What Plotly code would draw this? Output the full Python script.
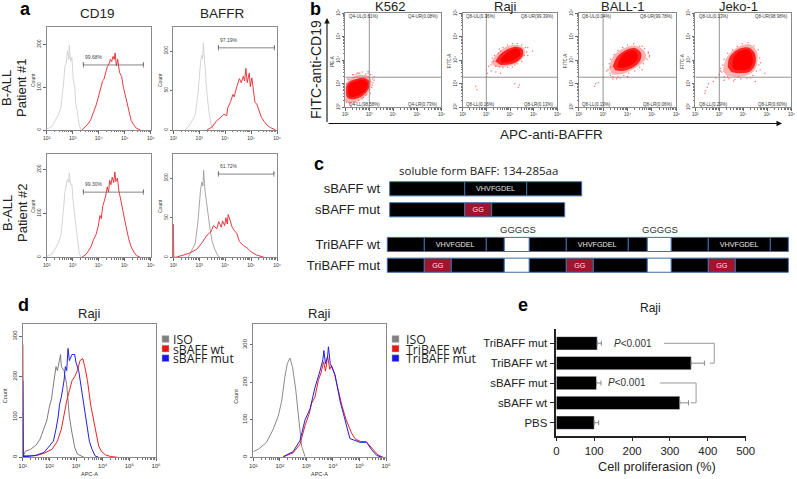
import numpy as np
import plotly.graph_objects as go

W, H = 797, 479
ARIAL = "Liberation Sans"
OPEN = "Open Sans"
SUP = {1: "¹", 2: "²", 3: "³", 4: "⁴", 5: "⁵", 6: "⁶"}

# ---------- panel a histograms (x = log10 intensity, y = count) ----------
a_iso_x = [2.0,2.2,2.35,2.45,2.55,2.6,2.65,2.7,2.75,2.8,2.85,2.87,2.92,2.97,3.02,3.08,3.12,3.18,3.25,3.32]
a_iso1_y = [2,8,25,35,55,80,110,150,155,185,165,198,160,170,120,100,60,40,12,0]
a_iso3_y = [2,7,22,33,52,78,112,148,160,178,170,192,165,165,125,95,62,36,10,0]
a_red1_x = [3.35,3.5,3.6,3.7,3.8,3.9,3.98,4.05,4.1,4.15,4.2,4.27,4.33,4.4,4.45,4.5,4.55,4.6,4.63,4.68,4.73,4.8,4.88,4.95,5.02,5.1,5.18,5.25,5.35,5.45,5.6]
a_red1_y = [0,8,15,25,40,58,75,90,100,115,118,135,148,155,165,160,172,165,180,150,165,135,125,100,80,60,38,22,12,4,0]
a_red3_x = [3.35,3.5,3.6,3.7,3.8,3.9,3.98,4.05,4.1,4.15,4.2,4.27,4.33,4.38,4.42,4.47,4.52,4.58,4.62,4.66,4.72,4.78,4.85,4.92,5.0,5.08,5.16,5.25,5.35,5.45,5.6]
a_red3_y = [0,6,14,24,40,52,70,95,88,115,125,140,160,148,175,165,182,170,194,172,180,150,130,105,85,62,40,24,12,4,0]
a_iso2_x = [2.45,2.6,2.75,2.85,2.95,3.0,3.05,3.1,3.13,3.16,3.2,3.25,3.3,3.38,3.45,3.55]
a_iso2_y = [0,5,13,20,45,70,85,95,90,110,88,75,45,22,8,0]
a_red2_x = [3.3,3.5,3.68,3.8,3.95,4.06,4.1,4.2,4.3,4.35,4.45,4.55,4.62,4.7,4.75,4.8,4.85,4.93,4.97,5.03,5.1,5.15,5.22,5.3,5.4,5.5,5.62,5.75,5.95]
a_red2_y = [0,4,12,15,20,18,28,35,45,42,55,65,60,68,62,78,60,72,55,66,48,35,33,26,16,11,6,3,0]
a_iso4_x = [2.58,2.7,2.85,2.95,3.0,3.05,3.1,3.14,3.17,3.22,3.28,3.35,3.42,3.5,3.6,3.72,3.8]
a_iso4_y = [0,8,18,45,70,85,95,90,110,85,70,50,35,20,10,2,0]
a_red4_x = [2.0,2.0,2.02,2.1,2.32,2.6,2.9,3.1,3.3,3.45,3.55,3.68,3.75,3.85,3.9,3.98,4.03,4.08,4.12,4.2,4.27,4.35,4.45,4.55,4.7,4.84,5.0,5.2,5.35,5.5]
a_red4_y = [0,42,0,0,2,5,10,18,28,32,40,36,45,38,46,40,50,42,54,45,38,34,30,20,15,12,7,3,1,0]
a_gates_x = [[3.41,5.72],[3.74,5.9],[3.41,5.72],[3.74,5.88]]
a_gates_y = [152,104,148,105]
a_gate_text = ["99.68%","97.19%","99.30%","61.72%"]
a_titles = ["CD19","BAFFR"]

# ---------- panel b dot plots (x,y = log10 intensity) ----------
b_titles = ["K562","Raji","BALL-1","Jeko-1"]
b_yname = ["PE-A","FITC-A","FITC-A","FITC-A"]
b_quad = [["Q4-UL(0.61%)","Q4-UR(0.08%)","Q4-LL(98.58%)","Q4-LR(0.73%)"],
          ["Q8-UL(0.36%)","Q8-UR(99.39%)","Q8-LL(0.16%)","Q8-LR(0.13%)"],
          ["Q8-UL(0.04%)","Q8-UR(99.78%)","Q8-LL(0.13%)","Q8-LR(0.06%)"],
          ["Q8-UL(0.13%)","Q8-UR(98.98%)","Q8-LL(0.29%)","Q8-LR(0.60%)"]]
k562_halo_x = [2.0,2.0,2.1,2.3,2.6,2.9,3.05,3.08,3.0,2.8,2.6,2.35,2.1]
k562_halo_y = [2.25,2.9,3.12,3.28,3.38,3.36,3.25,3.0,2.7,2.45,2.3,2.22,2.2]
k562_core_x = [2.04,2.06,2.22,2.5,2.8,3.0,3.0,2.82,2.55,2.3,2.1]
k562_core_y = [2.5,2.95,3.12,3.22,3.25,3.12,2.85,2.58,2.4,2.34,2.38]
k562_inner_x = [2.12,2.14,2.28,2.5,2.78,2.92,2.92,2.78,2.55,2.32,2.18]
k562_inner_y = [2.58,2.92,3.06,3.14,3.16,3.06,2.85,2.65,2.5,2.44,2.46]
k562_dots_x = [2.05,2.2,2.45,2.7,3.05,3.15,3.2,2.95,2.7,2.5,2.3,2.1,3.1,2.85,2.55,2.02,2.03,2.05,2.15,2.35,2.6,2.85,3.05,3.15,3.12,3.02,2.9,2.75,2.55,2.35,2.15,3.2,2.95,2.45,3.05]
k562_dots_y = [2.2,2.15,2.22,2.35,2.6,3.05,3.3,3.45,3.5,3.46,3.38,3.2,2.85,2.5,3.45,2.3,2.6,3.0,3.2,3.38,3.45,3.42,3.38,3.2,2.95,2.75,2.55,2.42,2.28,2.22,2.2,3.15,3.52,3.4,3.1]
raji_halo_x = [3.2,3.35,3.6,3.9,4.3,4.58,4.62,4.42,4.1,3.7,3.38]
raji_halo_y = [3.88,4.15,4.42,4.6,4.66,4.52,4.25,3.98,3.8,3.72,3.72]
raji_core_x = [3.38,3.55,3.85,4.25,4.52,4.54,4.3,3.95,3.6]
raji_core_y = [3.95,4.22,4.45,4.58,4.48,4.2,3.94,3.82,3.8]
raji_inner_x = [3.6,3.75,3.95,4.25,4.42,4.42,4.2,3.9,3.65]
raji_inner_y = [4.02,4.22,4.38,4.5,4.42,4.2,4.02,3.92,3.9]
raji_dots_x = [2.55,2.6,3.0,3.05,3.1,3.2,4.4,4.35,4.2,4.95,3.4,3.0,4.75,3.6,3.2,3.3,3.35,3.5,3.55,3.7,3.9,4.1,4.3,4.5,4.6,4.7,4.65,4.5,4.3,4.1,3.9,3.7,3.55,3.25,3.4,4.75,4.2,3.6]
raji_dots_y = [2.9,2.75,3.6,3.45,3.75,3.55,2.95,2.85,3.0,4.4,3.5,3.3,4.55,3.45,3.8,3.95,4.2,4.3,3.7,3.68,3.7,3.72,3.85,3.95,4.2,4.35,4.55,4.65,4.72,4.7,4.65,4.55,4.48,4.1,3.75,4.2,3.8,4.4]
ball_halo_x = [3.25,3.35,3.62,3.95,4.3,4.68,4.76,4.52,4.1,3.7,3.38]
ball_halo_y = [3.62,4.05,4.38,4.56,4.62,4.42,4.1,3.82,3.55,3.4,3.4]
ball_core_x = [3.4,3.55,3.9,4.3,4.56,4.5,4.2,3.8,3.5]
ball_core_y = [3.75,4.12,4.42,4.52,4.3,3.95,3.68,3.55,3.58]
ball_inner_x = [3.6,3.72,3.95,4.25,4.42,4.36,4.12,3.82,3.6]
ball_inner_y = [3.82,4.12,4.34,4.42,4.25,3.98,3.78,3.68,3.7]
ball_dots_x = [2.65,2.7,2.8,3.0,3.3,3.4,3.7,4.0,4.85,4.9,4.6,3.15,3.55,3.2,3.25,3.3,3.45,3.6,3.8,4.0,4.25,4.5,4.7,4.85,4.8,4.65,4.5,4.3,4.05,3.85,3.6,3.4,3.28,4.6,4.0,3.3,4.9]
ball_dots_y = [2.9,3.0,3.05,3.25,3.35,3.2,3.25,3.3,4.3,4.15,4.6,3.55,3.22,3.6,3.85,4.05,4.25,4.42,4.55,4.65,4.7,4.6,4.5,4.35,4.05,3.85,3.7,3.55,3.45,3.35,3.3,3.3,3.45,3.6,3.3,3.7,4.2]
jeko_halo_x = [3.15,3.25,3.52,3.9,4.3,4.56,4.58,4.42,4.1,3.7,3.32]
jeko_halo_y = [3.52,4.0,4.38,4.62,4.66,4.38,3.9,3.52,3.34,3.3,3.34]
jeko_core_x = [3.35,3.42,3.75,4.2,4.48,4.5,4.28,3.85,3.5]
jeko_core_y = [3.72,4.12,4.45,4.55,4.3,3.85,3.52,3.45,3.5]
jeko_inner_x = [3.55,3.58,3.8,4.18,4.36,4.38,4.2,3.85,3.6]
jeko_inner_y = [3.78,4.08,4.35,4.45,4.25,3.85,3.62,3.58,3.62]
jeko_dots_x = [2.4,2.42,2.5,2.55,2.75,2.85,3.0,3.2,3.35,4.9,4.7,4.5,3.05,3.6,3.1,3.15,3.2,3.35,3.55,3.75,3.95,4.2,4.45,4.62,4.68,4.65,4.55,4.4,4.15,3.9,3.65,3.4,3.2,3.05,4.3,3.8,3.0,4.72]
jeko_dots_y = [2.6,2.7,2.85,3.0,3.1,3.25,3.4,3.15,3.3,3.45,3.6,3.1,3.55,3.12,3.5,3.8,4.05,4.3,4.45,4.6,4.7,4.75,4.62,4.45,4.1,3.8,3.55,3.35,3.25,3.2,3.18,3.22,3.3,3.65,3.25,3.3,3.4,3.9]
b_quad_line = 3.0, 3.28

# ---------- panel c constructs: segment lengths ----------
c_rows = ["TriBAFF mut","TriBAFF wt","sBAFF mut","sBAFF wt"]
c_row_y = [0.0, 1.0, 2.67, 3.68]
c_offset = [3.3, 3.3, 5.7, 5.7]
BLK, VH, GG, GAP = "black", "VHVFGDEL", "GG", "white"
c_sw_len = [75, 62, 55]
c_sw_kind = [BLK, VH, BLK]
c_sm_len = [75, 27, 73]
c_sm_kind = [BLK, GG, BLK]
c_tw_len = [37, 62, 18, 25, 37, 62, 19, 24, 37, 62, 18]
c_tw_kind = [BLK, VH, BLK, GAP, BLK, VH, BLK, GAP, BLK, VH, BLK]
c_tm_len = [37, 27, 53, 25, 37, 27, 54, 24, 37, 27, 53]
c_tm_kind = [BLK, GG, BLK, GAP, BLK, GG, BLK, GAP, BLK, GG, BLK]

# ---------- panel d histograms ----------
d1_iso_x = [1.0,1.1,1.3,1.5,1.65,1.8,1.9,2.0,2.08,2.12,2.2,2.25,2.3,2.37,2.42,2.45,2.55,2.65,2.75,2.85,2.95,3.05,3.2,3.3]
d1_iso_y = [0,15,20,30,45,70,90,125,145,165,200,225,215,240,255,225,215,180,100,60,25,8,2,0]
d1_red_x = [1.0,1.0,1.02,1.5,1.8,2.1,2.3,2.45,2.55,2.65,2.75,2.85,2.95,3.05,3.15,3.25,3.33,3.43,3.55,3.65,3.75,3.85,3.95,4.1,4.3,4.55]
d1_red_y = [0,280,4,4,10,20,40,70,105,140,165,190,200,215,240,245,225,190,130,95,55,28,15,6,2,0]
d1_blue_x = [1.0,1.0,1.02,1.2,1.5,1.8,2.0,2.15,2.25,2.33,2.38,2.45,2.55,2.6,2.65,2.7,2.75,2.85,2.95,3.0,3.1,3.2,3.3,3.4,3.5,3.6,3.72,3.85]
d1_blue_y = [0,190,2,2,5,12,28,40,70,100,130,150,190,225,215,270,240,255,255,235,215,170,120,80,40,20,3,0]
d2_iso_x = [1.0,1.2,1.5,1.75,1.94,2.07,2.19,2.28,2.38,2.48,2.6,2.72,2.82,2.95]
d2_iso_y = [15,22,40,75,110,150,215,250,265,240,180,90,30,2]
d2_red_x = [2.13,2.5,2.76,2.95,3.1,3.2,3.32,3.45,3.55,3.65,3.72,3.8,3.88,3.95,4.05,4.2,4.35,4.5,4.7,4.85,5.05,5.25,5.42,5.55,5.7,5.9]
d2_red_y = [1,12,35,85,115,145,160,205,225,255,230,270,235,245,225,180,135,100,65,48,42,42,28,18,6,0]
d2_blue_x = [2.13,2.5,2.76,2.95,3.14,3.32,3.51,3.62,3.66,3.72,3.8,3.83,3.9,4.08,4.27,4.45,4.64,4.83,5.02,5.27,5.46,5.65,5.84]
d2_blue_y = [2,15,45,100,130,185,230,260,285,250,270,295,250,220,150,100,50,45,40,40,20,5,0]
d1_legend = ["ISO","sBAFF wt","sBAFF mut"]
d2_legend = ["ISO","TriBAFF wt","TriBAFF mut"]

# ---------- panel e bars ----------
e_names = ["PBS","sBAFF wt","sBAFF mut","TriBAFF wt","TriBAFF mut"]
e_values = [100,326,106,356,108]
e_errors = [12,23,12,35,11]
e_ticks = [0,100,200,300,400,500]
e_br1_x, e_br1_y = [284,417,417,405], [4,4,3,3]
e_br2_x, e_br2_y = [274,369,369,355], [2,2,1,1]

# ---------- helpers ----------
fig = go.Figure()
annots, shapes = [], []
counter = [0]

def fx(x): return x / W
def fy(y): return 1 - y / H

def text(x, y, s, size=6, color="#333", font=ARIAL, angle=0, anchor="center"):
    annots.append(dict(x=fx(x), y=fy(y), xref="paper", yref="paper", text=s, showarrow=False,
                       textangle=angle, xanchor=anchor, yanchor="middle",
                       font=dict(size=size, color=color, family=font)))

def make_axes(x0, x1, y0, y1, xcfg, ycfg):
    counter[0] += 1
    n = counter[0]
    s = "" if n == 1 else str(n)
    fig.layout["xaxis" + s] = dict(domain=[fx(x0), fx(x1)], anchor="y" + s, **xcfg)
    fig.layout["yaxis" + s] = dict(domain=[fy(y1), fy(y0)], anchor="x" + s, **ycfg)
    return "x" + s, "y" + s

def minor_log(lo, hi):
    return [d + np.log10(m) for d in range(lo, hi) for m in range(2, 10)]

def flow_x(lo, hi, size=5):
    return dict(range=[lo, hi], tickmode="array", tickvals=list(range(lo, hi + 1)),
                ticktext=[f"10{SUP[e]}" for e in range(lo, hi + 1)],
                ticks="outside", ticklen=2.5, tickwidth=0.6, tickcolor="#666", showgrid=False, zeroline=False,
                showline=True, mirror=True, linecolor="#8a8a8a", linewidth=1,
                tickfont=dict(size=size, family=ARIAL, color="#333"),
                minor=dict(tickmode="array", tickvals=minor_log(lo, hi), ticks="outside", ticklen=1.2,
                           tickwidth=0.5, tickcolor="#777", showgrid=False))

def flow_y(top, vals, size=5):
    return dict(range=[0, top], tickmode="array", tickvals=vals, ticks="outside", ticklen=2.5, tickwidth=0.6,
                tickcolor="#666", showgrid=False, zeroline=False, showline=True, mirror=True,
                linecolor="#8a8a8a", linewidth=1, tickangle=-90,
                tickfont=dict(size=size, family=ARIAL, color="#333"))

def line(xa, ya, x, y, color, width=0.9):
    fig.add_trace(go.Scatter(x=x, y=y, xaxis=xa, yaxis=ya, mode="lines",
                             line=dict(color=color, width=width), showlegend=False, hoverinfo="skip"))

# ---------- panel a ----------
a_boxes = [(46.7,150.7,27.3,130,240),(173.3,277,27.3,130,130),(46.7,150.7,154.3,257.3,234),(173.3,277,154.3,257.3,130)]
a_y_ticks = [[0,100,200],[0,50,100],[0,100,200],[0,50,100]]
a_curves = [[(a_iso_x,a_iso1_y,"#cfcfcf"),(a_red1_x,a_red1_y,"#e8252b")],
            [(a_iso2_x,a_iso2_y,"#cfcfcf"),(a_red2_x,a_red2_y,"#e8252b")],
            [(a_iso_x,a_iso3_y,"#cfcfcf"),(a_red3_x,a_red3_y,"#e8252b")],
            [(a_iso4_x,a_iso4_y,"#9c9c9c"),(a_red4_x,a_red4_y,"#e8252b")]]
for i, b in enumerate(a_boxes):
    xa, ya = make_axes(b[0], b[1], b[2], b[3], flow_x(2, 6), flow_y(b[4], a_y_ticks[i]))
    for cx, cy, col in a_curves[i]:
        line(xa, ya, cx, cy, col)
    g0, g1 = a_gates_x[i]
    gy, cap = a_gates_y[i], b[4] * 0.025
    line(xa, ya, [g0,g0,g0,g1,g1,g1], [gy-cap,gy+cap,gy,gy,gy+cap,gy-cap], "#666", 0.8)
    annots.append(dict(x=g0, y=gy + b[4] * 0.08, xref=xa, yref=ya, text=a_gate_text[i], showarrow=False, xanchor="left",
                       font=dict(size=5, family=ARIAL, color="#444")))
    text(33 if i % 2 == 0 else 160, 80 if i < 2 else 206, "Count", 5, angle=-90)
text(97, 14, a_titles[0], 13.5, "#222")
text(223, 14, a_titles[1], 13.5, "#222")
for yy, s in [(88, "Patient #1"), (213, "Patient #2")]:
    text(7, yy, "B-ALL", 13, "#222", angle=-90)
    text(22, yy, s, 13, "#222", angle=-90)

# ---------- panel b ----------
b_boxes = [(345.3,441.3),(462.7,557.3),(578.7,676.3),(695.3,791.3)]
b_clouds = [(k562_halo_x,k562_halo_y,k562_core_x,k562_core_y,k562_inner_x,k562_inner_y,k562_dots_x,k562_dots_y),
            (raji_halo_x,raji_halo_y,raji_core_x,raji_core_y,raji_inner_x,raji_inner_y,raji_dots_x,raji_dots_y),
            (ball_halo_x,ball_halo_y,ball_core_x,ball_core_y,ball_inner_x,ball_inner_y,ball_dots_x,ball_dots_y),
            (jeko_halo_x,jeko_halo_y,jeko_core_x,jeko_core_y,jeko_inner_x,jeko_inner_y,jeko_dots_x,jeko_dots_y)]
for i, (x0, x1) in enumerate(b_boxes):
    ycfg = flow_x(2, 6, 4.5)
    ycfg["tickangle"] = -90
    xa, ya = make_axes(x0, x1, 13.3, 107.3, flow_x(2, 6, 4.5), ycfg)
    hx, hy, cx, cy, ix, iy, dx, dy = b_clouds[i]
    for px_, py_, op in [(hx, hy, 0.3), (cx, cy, 0.8), (ix, iy, 1.0)]:
        fig.add_trace(go.Scatter(x=px_, y=py_, xaxis=xa, yaxis=ya, mode="lines", fill="toself",
                                 fillcolor=f"rgba(255,0,0,{op})",
                                 line=dict(width=0, shape="spline", smoothing=1),
                                 showlegend=False, hoverinfo="skip"))
    fig.add_trace(go.Scatter(x=dx, y=dy, xaxis=xa, yaxis=ya, mode="markers",
                             marker=dict(color="rgba(255,60,60,0.7)", size=1.5), showlegend=False, hoverinfo="skip"))
    qx, qy = b_quad_line
    line(xa, ya, [qx, qx], [2, 6], "#888", 0.9)
    line(xa, ya, [2, 6], [qy, qy], "#888", 0.9)
    q = b_quad[i]
    for (ax_, ay_, anch, s) in [(2.05,5.86,"left",q[0]),(5.95,5.86,"right",q[1]),(2.05,2.13,"left",q[2]),(5.95,2.13,"right",q[3])]:
        annots.append(dict(x=ax_, y=ay_, xref=xa, yref=ya, text=s, showarrow=False, xanchor=anch,
                           font=dict(size=4.5, family=ARIAL, color="#333")))
    text((x0 + x1) / 2 - (3 if i == 0 else 5), 6, b_titles[i], 13, "#222")
    text(x0 - 12.5, 61, b_yname[i], 4.5, angle=-90)
text(316, 70, "FITC-anti-CD19", 14, "#222", angle=-90)
text(551, 134, "APC-anti-BAFFR", 13.5, "#222")
for ax_, ay_, tx, ty in [(327, 123.5, 327, 18), (327, 123.5, 782, 123.5)]:
    annots.append(dict(x=fx(tx), y=fy(ty), ax=ax_ - tx, ay=ay_ - ty, xref="paper", yref="paper",
                       text="", showarrow=True, arrowhead=2, arrowsize=1, arrowwidth=1.1, arrowcolor="#111"))

# ---------- panel c ----------
xa, ya = make_axes(384, 797, 178, 276, dict(range=[0, 413], visible=False),
                   dict(range=[-0.52, 4.2], tickmode="array", tickvals=c_row_y, ticktext=c_rows, ticks="",
                        ticklabelstandoff=3, showgrid=False, zeroline=False, showline=False,
                        tickfont=dict(size=13, family=ARIAL, color="#222")))
kind_color = {BLK: "#000", VH: "#000", GG: "#a0142e", GAP: "#fff"}
c_defs = [(c_tm_len, c_tm_kind), (c_tw_len, c_tw_kind), (c_sm_len, c_sm_kind), (c_sw_len, c_sw_kind)]
for r, (lens, kinds) in enumerate(c_defs):
    start = c_offset[r]
    for ln, kd in zip(lens, kinds):
        fig.add_trace(go.Bar(x=[ln], y=[c_row_y[r]], base=[start], orientation="h", width=0.68, xaxis=xa, yaxis=ya,
                             marker=dict(color=kind_color[kd], line=dict(color="#3f6fa8", width=1)),
                             text=[kd] if kd in (VH, GG) else None, textposition="inside", insidetextanchor="middle",
                             textangle=0, insidetextfont=dict(size=9.8, color="#e8e8e8", family=ARIAL),
                             showlegend=False, hoverinfo="skip"))
        start += ln
text(478, 170, "soluble form BAFF: 134-285aa", 11.5, "#222", OPEN)
text(518, 230, "GGGGS", 9.5, "#333")
text(660, 230, "GGGGS", 9.5, "#333")

# ---------- panel d ----------
d_boxes = [(22.7,156,330,[0,100,200,300],[(d1_iso_x,d1_iso_y,"#7d7d7d"),(d1_red_x,d1_red_y,"#f02020"),(d1_blue_x,d1_blue_y,"#1f1fe8")]),
           (253.3,386,355,[0,100,200,300],[(d2_iso_x,d2_iso_y,"#8a8a8a"),(d2_red_x,d2_red_y,"#f02020"),(d2_blue_x,d2_blue_y,"#1f1fe8")])]
for x0, x1, top, vals, curves in d_boxes:
    xa, ya = make_axes(x0, x1, 324.3, 457.3, flow_x(1, 6, 6), flow_y(top, vals, 6))
    for cx, cy, col in curves:
        line(xa, ya, cx, cy, col, 1)
    text((x0 + x1) / 2, 313, "Raji", 13, "#222")
    text((x0 + x1) / 2, 474, "APC-A", 5.5)
    text(x0 - 17.5, 396, "Count", 5.5, angle=-90)
swatches = ["#808080", "#f01515", "#1515f0"]
for lx, tx_, names in [(162, 171, d1_legend), (392, 404, d2_legend)]:
    for j, nm in enumerate(names):
        yy = 339 + j * 9.6
        shapes.append(dict(type="rect", xref="paper", yref="paper", x0=fx(lx), x1=fx(lx + 7),
                           y0=fy(yy + 3.4), y1=fy(yy - 3.4), fillcolor=swatches[j], line=dict(color="#bbb", width=0.5)))
        text(tx_, yy + 0.5, nm, 12.3, "#222", OPEN, anchor="left")

# ---------- panel e ----------
xa, ya = make_axes(556.3, 745.7, 329.3, 435.7,
                   dict(range=[0, 500], tickmode="array", tickvals=e_ticks, ticks="outside", ticklen=4, tickwidth=1.4,
                        tickcolor="#222", showgrid=False, zeroline=False, showline=True, linecolor="#222", linewidth=1.5,
                        tickfont=dict(size=11.4, family=ARIAL, color="#222")),
                   dict(range=[-0.655, 4.705], tickmode="array", tickvals=list(range(5)), ticktext=e_names, ticks="outside",
                        ticklen=5, tickwidth=1.4, tickcolor="#222", showgrid=False, zeroline=False, showline=True,
                        linecolor="#222", linewidth=1.5, tickfont=dict(size=11.4, family=ARIAL, color="#222")))
fig.add_trace(go.Bar(x=e_values, y=list(range(5)), orientation="h", width=0.67, xaxis=xa, yaxis=ya,
                     marker=dict(color="#000"), showlegend=False, hoverinfo="skip",
                     error_x=dict(type="data", array=e_errors, arrayminus=[0] * 5, color="#888", thickness=1, width=2.5)))
line(xa, ya, e_br1_x, e_br1_y, "#999", 1)
line(xa, ya, e_br2_x, e_br2_y, "#999", 1)
text(632.7, 343.3, "<i>P</i><0.001", 10, "#333")
text(627.3, 382.7, "<i>P</i><0.001", 10, "#333")
text(650.7, 307.7, "Raji", 12, "#222")
text(656.7, 467.3, "Cell proliferasion (%)", 12.7, "#222")

# ---------- panel letters ----------
for lx, ly, s in [(25, 9, "a"), (315, 9, "b"), (319, 164, "c"), (23, 305, "d"), (523, 305, "e")]:
    text(lx, ly, f"<b>{s}</b>", 18, "#000")

fig.update_layout(width=W, height=H, margin=dict(l=0, r=0, t=0, b=0, autoexpand=False), paper_bgcolor="white",
                  plot_bgcolor="rgba(0,0,0,0)", barmode="overlay", showlegend=False, annotations=annots, shapes=shapes)
fig.write_html("out.html", config=dict(displayModeBar=False),
               post_script="document.body.style.margin='0';document.documentElement.style.overflow='hidden';")
